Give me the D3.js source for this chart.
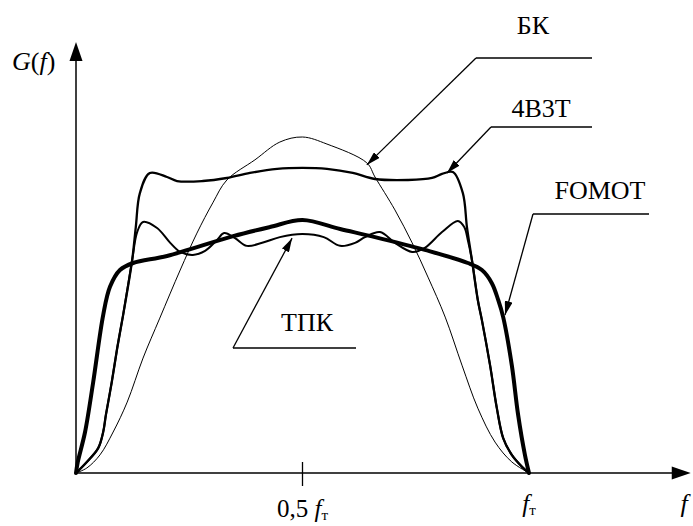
<!DOCTYPE html>
<html>
<head>
<meta charset="utf-8">
<script src="https://cdn.jsdelivr.net/npm/d3@7"></script>
<style>
  html, body { margin: 0; padding: 0; background: #fff; }
  svg { display: block; }
</style>
</head>
<body>
<svg id="chart" width="693" height="526"></svg>
<script>
// Power spectral density G(f) of line codes, f in units of the clock frequency f_T

// БК (bipolar code)
const bkF = [0, 0.024, 0.053, 0.082, 0.113, 0.148, 0.185, 0.230, 0.267, 0.302, 0.333, 0.395, 0.450, 0.5,
             0.554, 0.642, 0.660, 0.704, 0.742, 0.777, 0.815, 0.852, 0.887, 0.925, 0.962, 1.0];
const bkG = [0, 0.015, 0.054, 0.122, 0.211, 0.342, 0.461, 0.604, 0.714, 0.804, 0.872, 0.932, 0.985, 1.0,
             0.979, 0.923, 0.881, 0.783, 0.685, 0.583, 0.464, 0.321, 0.193, 0.092, 0.033, 0];

// 4B3T
const b43F = [0, 0.024, 0.049, 0.060, 0.066, 0.079, 0.091, 0.104, 0.124, 0.132, 0.141, 0.163, 0.201,
              0.223, 0.280, 0.333, 0.384, 0.444, 0.5,
              0.554, 0.611, 0.660, 0.733, 0.786, 0.808, 0.832, 0.854, 0.863, 0.874, 0.887, 0.896,
              0.914, 0.929, 0.943, 0.962, 0.985, 1.0];
const b43G = [0, 0.033, 0.074, 0.122, 0.173, 0.271, 0.372, 0.470, 0.634, 0.732, 0.833, 0.893, 0.881,
              0.869, 0.869, 0.878, 0.893, 0.905, 0.908,
              0.905, 0.893, 0.875, 0.872, 0.878, 0.890, 0.896, 0.833, 0.732, 0.634, 0.515, 0.455,
              0.321, 0.193, 0.104, 0.054, 0.018, 0];

// ТПК
const tpkF = [0, 0.024, 0.049, 0.060, 0.066, 0.079, 0.091, 0.104, 0.124, 0.135, 0.148, 0.179, 0.208, 0.230,
              0.258, 0.285, 0.311, 0.327, 0.351, 0.377, 0.411, 0.450, 0.5,
              0.547, 0.583, 0.616, 0.638, 0.671, 0.704, 0.742, 0.770, 0.808, 0.843, 0.857, 0.865,
              0.874, 0.887, 0.896, 0.914, 0.929, 0.943, 0.962, 0.985, 1.0];
const tpkG = [0, 0.033, 0.074, 0.122, 0.173, 0.271, 0.372, 0.470, 0.634, 0.717, 0.747, 0.729, 0.685, 0.658,
              0.649, 0.661, 0.693, 0.714, 0.699, 0.676, 0.685, 0.702, 0.711,
              0.702, 0.676, 0.685, 0.702, 0.717, 0.685, 0.658, 0.670, 0.717, 0.750, 0.732, 0.693,
              0.634, 0.515, 0.455, 0.321, 0.193, 0.104, 0.054, 0.018, 0];

// FOMOT
const fomF = [0, 0.004, 0.020, 0.038, 0.060, 0.075, 0.097, 0.126, 0.201, 0.347, 0.428, 0.5,
              0.583, 0.660, 0.770, 0.865, 0.896, 0.918, 0.932, 0.943, 0.962, 0.976, 0.991, 1.0];
const fomG = [0, 0.033, 0.122, 0.271, 0.470, 0.554, 0.604, 0.625, 0.646, 0.705, 0.732, 0.753,
              0.726, 0.702, 0.664, 0.625, 0.604, 0.565, 0.515, 0.464, 0.321, 0.173, 0.054, 0];

// Axis ticks and labels
const tickValues = [0.5, 1];
const tickLabels = ["0,5 ", ""];

const FONT = "'Liberation Serif', Tinos, 'Times New Roman', 'DejaVu Serif', serif";

const svg = d3.select("#chart")
  .attr("font-family", FONT);
const x = d3.scaleLinear().domain([0, 1]).range([76, 529]);
const y = d3.scaleLinear().domain([0, 1]).range([473, 137]);

const xEnd = 1.357;   // end of the f axis arrow
const yEnd = 1.283;   // end of the G axis arrow

// arrowhead for annotation leaders
svg.append("defs").append("marker")
  .attr("id", "head")
  .attr("viewBox", "0 0 14 8")
  .attr("refX", 14).attr("refY", 4)
  .attr("markerWidth", 14).attr("markerHeight", 8)
  .attr("markerUnits", "userSpaceOnUse")
  .attr("orient", "auto")
  .append("path").attr("d", "M0,0 L14,4 L0,8 Z").attr("fill", "#000");

// axes
const axes = svg.append("g").attr("stroke", "#000");
axes.append("line")
  .attr("x1", x(0)).attr("y1", y(0)).attr("x2", x(xEnd) - 15).attr("y2", y(0))
  .attr("stroke-width", 1.5);
axes.append("path")
  .attr("d", `M${x(xEnd)},${y(0)} L${x(xEnd) - 19},${y(0) - 6.5} L${x(xEnd) - 19},${y(0) + 6.5} Z`)
  .attr("fill", "#000").attr("stroke", "none");
axes.append("line")
  .attr("x1", x(0)).attr("y1", y(0)).attr("x2", x(0)).attr("y2", y(yEnd) + 15)
  .attr("stroke-width", 1.5);
axes.append("path")
  .attr("d", `M${x(0)},${y(yEnd)} L${x(0) - 6.5},${y(yEnd) + 19} L${x(0) + 6.5},${y(yEnd) + 19} Z`)
  .attr("fill", "#000").attr("stroke", "none");

// tick mark at 0,5 f_T
axes.append("line")
  .attr("x1", x(tickValues[0])).attr("x2", x(tickValues[0]))
  .attr("y1", y(0) - 11).attr("y2", y(0) + 13)
  .attr("stroke-width", 1.3);

// tick labels
tickValues.forEach((v, i) => {
  const t = svg.append("text")
    .attr("x", x(v))
    .attr("y", i === 0 ? 517 : 512)
    .attr("text-anchor", "middle")
    .attr("font-size", 25)
    .attr("font-family", FONT);
  if (tickLabels[i]) t.append("tspan").text(tickLabels[i]);
  t.append("tspan").attr("font-style", "italic").text("f");
  t.append("tspan").attr("font-size", 15).attr("dy", 3).text("т");
});

// axis titles
svg.append("text").attr("x", 684).attr("y", 512).attr("text-anchor", "middle")
  .attr("font-family", FONT)
  .attr("font-size", 26).attr("font-style", "italic").text("f");
const gt = svg.append("text").attr("x", 12).attr("y", 70).attr("font-size", 26)
  .attr("font-family", FONT);
gt.append("tspan").attr("font-style", "italic").text("G");
gt.append("tspan").text("(");
gt.append("tspan").attr("font-style", "italic").text("f");
gt.append("tspan").text(")");

// spectra
const line = d3.line()
  .x(d => x(d[0]))
  .y(d => y(d[1]))
  .curve(d3.curveCatmullRom.alpha(0.5));

const series = [
  { f: bkF,  g: bkG,  w: 1.0 },
  { f: tpkF, g: tpkG, w: 2.0 },
  { f: b43F, g: b43G, w: 2.3 },
  { f: fomF, g: fomG, w: 4.0 }
];
svg.append("g").selectAll("path")
  .data(series)
  .join("path")
  .attr("d", s => line(d3.zip(s.f, s.g)))
  .attr("fill", "none")
  .attr("stroke", "#000")
  .attr("stroke-width", s => s.w)
  .attr("stroke-linejoin", "round")
  .attr("stroke-linecap", "round");

// leader annotations: arrow tip on the curve (data units), shelf and label in px
const notes = [
  { label: "БК",    tip: [0.642, 0.917], elbow: [476, 58],  end: 592, tx: 533, ty: 34 },
  { label: "4B3T",  tip: [0.819, 0.893], elbow: [491, 127], end: 592, tx: 541, ty: 117 },
  { label: "FOMOT", tip: [0.947, 0.470], elbow: [533, 214], end: 649, tx: 600, ty: 199 },
  { label: "ТПК",   tip: [0.477, 0.699], elbow: [233, 348], end: 356, tx: 307, ty: 331 }
];
const ng = svg.append("g");
notes.forEach(n => {
  ng.append("line")
    .attr("x1", n.elbow[0]).attr("y1", n.elbow[1]).attr("x2", n.end).attr("y2", n.elbow[1])
    .attr("stroke", "#000").attr("stroke-width", 1.3);
  ng.append("line")
    .attr("x1", n.elbow[0]).attr("y1", n.elbow[1])
    .attr("x2", x(n.tip[0])).attr("y2", y(n.tip[1]))
    .attr("stroke", "#000").attr("stroke-width", 1.3)
    .attr("marker-end", "url(#head)");
  ng.append("text")
    .attr("x", n.tx).attr("y", n.ty)
    .attr("text-anchor", "middle")
    .attr("font-size", 26)
    .attr("font-family", FONT)
    .text(n.label);
});
</script>
</body>
</html>
